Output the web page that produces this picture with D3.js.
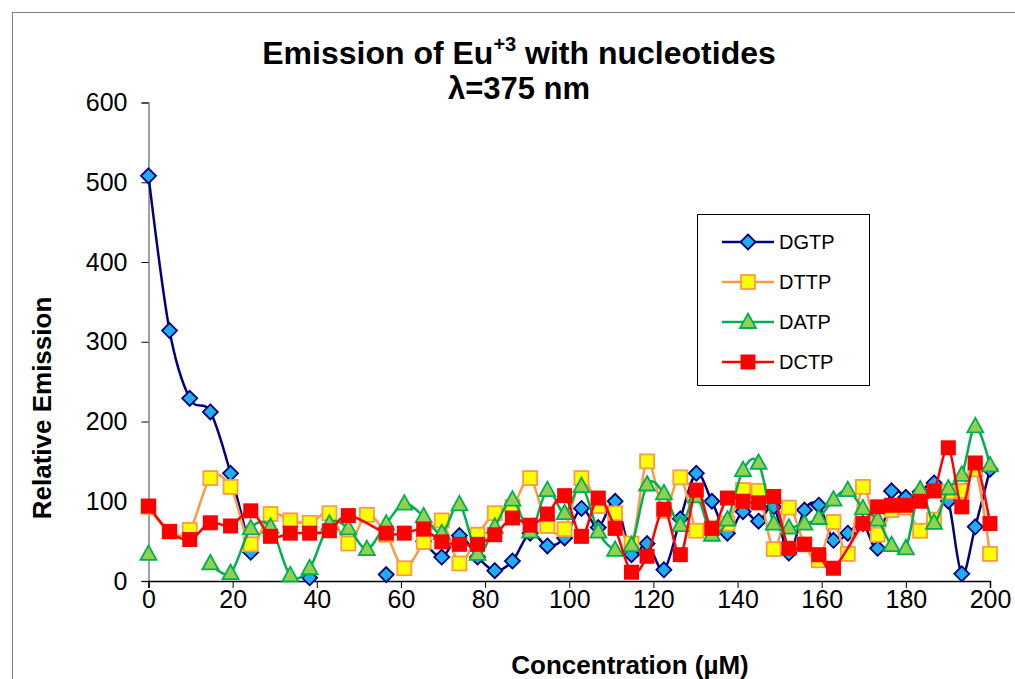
<!DOCTYPE html>
<html>
<head>
<meta charset="utf-8">
<script src="https://cdn.jsdelivr.net/npm/d3@7"></script>
<style>
  body { margin: 0; background: #fff; }
  svg { font-family: Arial, "Liberation Sans", sans-serif; }
</style>
</head>
<body>
<div id="chart"></div>
<script>
// concentration (µM) of each addition
const conc = [0, 5.0, 9.8, 14.7, 19.5, 24.3, 29.0, 33.7, 38.3, 43.0, 47.5, 51.9, 56.5, 60.8, 65.4,
  69.7, 73.9, 78.2, 82.3, 86.5, 90.7, 94.8, 98.9, 102.9, 106.9, 110.9, 114.8, 118.5, 122.5, 126.4,
  130.2, 133.9, 137.6, 141.3, 145.0, 148.6, 152.2, 155.9, 159.3, 162.8, 166.2, 169.8, 173.3, 176.6,
  180.0, 183.4, 186.7, 190.1, 193.3, 196.5, 200];

const dgtp = [508, 314, 229, 212, 135, 36, null, null, 4, null, null, null, 8, null, 50, 30, 57, 30,
  13, 25, 60, 44, 54, 91, 67, 100, 33, 47, 14, 78, 135, 100, 60, 87, 75, 93, 35, 89, 95, 51, 60,
  72, 41, 113, 105, 112, 123, 100, 9, 68, 140];
const dttp = [93, 62, 64, 129, 118, 46, 84, 76, 73, 85, 47, 83, 58, 16, 49, 76, 22, 58, 85, 93,
  129, 69, 65, 129, 94, 85, 47, 150, 88, 130, 63, 66, 72, 114, 113, 40, 92, 46, 26, 74, 34, 118,
  58, 89, 92, 63, 77, 112, 113, 140, 34];
const datp = [34, null, null, 22, 10, 66, 68, 7, 16, 72, 66, 40, 72, 97, 81, 60, 96, 34, 68, 102,
  62, 114, 85, 119, 62, 39, 45, 121, 110, 70, 106, 58, 77, 139, 148, 72, 67, 72, 79, 102, 114, 91,
  77, 45, 41, 115, 73, 116, 133, 194, 145];
const dctp = [94, 62, 52, 73, 69, 88, 56, 60, 60, 63, 82, null, 60, 60, 65, 49, 46, 46, 58, 79,
  70, 84, 107, 56, 104, 66, 11, 31, 90, 33, 114, 66, 104, 100, 98, 106, 41, 46, 33, 16, null, 72,
  93, 95, 95, 100, 113, 167, 93, 148, 72];

const xTicks = [0, 20, 40, 60, 80, 100, 120, 140, 160, 180, 200];
const yTicks = [0, 100, 200, 300, 400, 500, 600];

const series = [
  { name: "DGTP", values: dgtp, line: "#000080", fill: "#1EAEEB", stroke: "#000080", shape: "diamond", gaps: true },
  { name: "DTTP", values: dttp, line: "#FF9944", fill: "#FFFF00", stroke: "#FF9944", shape: "square", gaps: false },
  { name: "DATP", values: datp, line: "#00B050", fill: "#92D050", stroke: "#00B050", shape: "triangle", gaps: true },
  { name: "DCTP", values: dctp, line: "#FF0000", fill: "#FF0000", stroke: "#FF0000", shape: "bigsquare", gaps: false }
];

const W = 1015, H = 679;
const svg = d3.select("#chart").append("svg").attr("width", W).attr("height", H);

// chart area border
svg.append("rect")
  .attr("x", 12.5).attr("y", 12.5)
  .attr("width", W + 10).attr("height", H + 10)
  .attr("fill", "none").attr("stroke", "#808080").attr("stroke-width", 1);

const x = d3.scaleLinear().domain([0, 200]).range([148.5, 990]);
const y = d3.scaleLinear().domain([0, 600]).range([581, 102.5]);

// y axis
const yAxis = svg.append("g")
  .attr("transform", "translate(148.5,0)")
  .call(d3.axisLeft(y).tickValues(yTicks).tickSize(7).tickPadding(14));
yAxis.select(".domain").attr("stroke", "#808080").attr("stroke-width", 1.5);
yAxis.selectAll(".tick line").attr("stroke", "#000");
yAxis.selectAll("text").style("font-size", "25px").attr("fill", "#000");

// x axis
const xAxis = svg.append("g")
  .attr("transform", "translate(0,581)")
  .call(d3.axisBottom(x).tickValues(xTicks).tickSize(7).tickPadding(2));
xAxis.select(".domain").attr("stroke", "#000").attr("stroke-width", 1.5);
xAxis.selectAll(".tick line").attr("stroke", "#000");
xAxis.selectAll("text").style("font-size", "25px").attr("fill", "#000");

// marker shapes
function marker(g, shape, s) {
  if (shape === "diamond") {
    g.append("path").attr("d", "M0,-7.5L7.5,0L0,7.5L-7.5,0Z")
      .attr("fill", s.fill).attr("stroke", s.stroke).attr("stroke-width", 1.8);
  } else if (shape === "square") {
    g.append("rect").attr("x", -7).attr("y", -7).attr("width", 14).attr("height", 14)
      .attr("fill", s.fill).attr("stroke", s.stroke).attr("stroke-width", 1.8);
  } else if (shape === "triangle") {
    g.append("path").attr("d", "M0,-8.5L8,6L-8,6Z")
      .attr("fill", s.fill).attr("stroke", s.stroke).attr("stroke-width", 1.8);
  } else {
    g.append("rect").attr("x", -7.5).attr("y", -7.5).attr("width", 15).attr("height", 15)
      .attr("fill", s.fill);
  }
}

const line = d3.line()
  .defined(d => d.v != null)
  .x(d => x(d.c))
  .y(d => y(d.v))
  .curve(d3.curveCardinal.tension(0));

series.forEach(s => {
  let pts = conc.map((c, i) => ({ c: c, v: s.values[i] }));
  if (!s.gaps) pts = pts.filter(d => d.v != null);
  const g = svg.append("g");
  g.append("path")
    .attr("d", line(pts))
    .attr("fill", "none")
    .attr("stroke", s.line)
    .attr("stroke-width", 2.5);
  pts.filter(d => d.v != null).forEach(d => {
    const m = g.append("g").attr("transform", "translate(" + x(d.c) + "," + y(d.v) + ")");
    marker(m, s.shape, s);
  });
});

// legend
const lg = svg.append("g");
lg.append("rect")
  .attr("x", 697.5).attr("y", 214.5).attr("width", 172).attr("height", 171)
  .attr("fill", "#fff").attr("stroke", "#000").attr("stroke-width", 1);
series.forEach((s, i) => {
  const ly = 242 + i * 40;
  lg.append("line")
    .attr("x1", 722).attr("x2", 774).attr("y1", ly).attr("y2", ly)
    .attr("stroke", s.line).attr("stroke-width", 2.5);
  marker(lg.append("g").attr("transform", "translate(748," + ly + ")"), s.shape, s);
  lg.append("text")
    .attr("x", 779).attr("y", ly + 7)
    .style("font-size", "20px")
    .text(s.name);
});

// titles
const title = svg.append("text")
  .attr("x", 519).attr("y", 64)
  .attr("text-anchor", "middle")
  .style("font-size", "32px").style("font-weight", "bold");
title.append("tspan").text("Emission of Eu");
title.append("tspan").attr("dy", -13).style("font-size", "20px").text("+3");
title.append("tspan").attr("dy", 13).text(" with nucleotides");

svg.append("text")
  .attr("x", 519).attr("y", 99)
  .attr("text-anchor", "middle")
  .style("font-size", "31px").style("font-weight", "bold")
  .text("λ=375 nm");

svg.append("text")
  .attr("transform", "translate(51,408) rotate(-90)")
  .attr("text-anchor", "middle")
  .style("font-size", "26px").style("font-weight", "bold")
  .text("Relative Emission");

svg.append("text")
  .attr("x", 630).attr("y", 674)
  .attr("text-anchor", "middle")
  .style("font-size", "26px").style("font-weight", "bold")
  .text("Concentration (µM)");
</script>
</body>
</html>
